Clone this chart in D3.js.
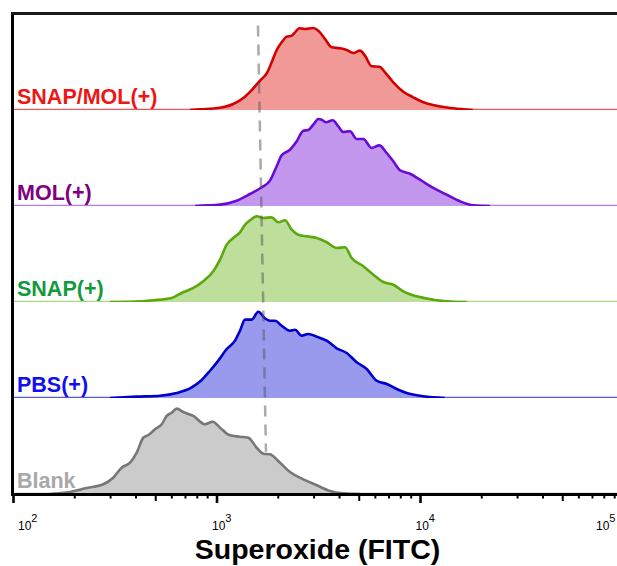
<!DOCTYPE html>
<html>
<head>
<meta charset="utf-8">
<script src="https://cdn.jsdelivr.net/npm/d3@7"></script>
<style>
  body { margin: 0; background: #fff; }
  svg { display: block; }
</style>
</head>
<body>
<div id="chart"></div>
<script>
// Row labels, top to bottom
const rowLabels = ["SNAP/MOL(+)", "MOL(+)", "SNAP(+)", "PBS(+)", "Blank"];

// Histograms: [FITC value, % of max count]
const snapMolData = [[737,0],[825,0.7],[1035,2.4],[1202,6.2],[1346,12.5],[1481,20.8],[1627,30.5],[1767,39.3],[1857,49.7],[1965,62.5],[2079,70.5],[2200,76.4],[2328,77.4],[2417,80.9],[2537,85.1],[2706,84.4],[2973,85.4],[3146,82.6],[3394,74.0],[3661,65.3],[4022,64.3],[4338,62.5],[4675,59.4],[5043,61.8],[5337,56.6],[5757,45.5],[6273,45.1],[6693,39.3],[7349,28.9],[8232,19.1],[9217,13.2],[10323,8.0],[12010,4.5],[14490,1.8],[18110,0]];
const molData = [[780,0],[1035,1.4],[1250,5.5],[1453,12.5],[1659,19.5],[1821,26.4],[1965,41.4],[2079,52.8],[2284,58.6],[2464,67.4],[2655,78.4],[2809,79.2],[2973,84.7],[3146,90.6],[3270,89.9],[3433,87.2],[3704,89.3],[3946,83.0],[4175,77.1],[4503,77.8],[4860,69.8],[5235,69.8],[5757,60.4],[6273,63.2],[6823,55.2],[7349,46.6],[7930,37.2],[8879,33.6],[9943,27.4],[11560,18.8],[13450,11.8],[15630,4.9],[18180,0.7],[21950,0]];
const snapData = [[298,0],[374,0.3],[486,1.8],[599,4.2],[671,9.4],[765,14.6],[856,21.6],[959,32.0],[1035,44.1],[1116,59.7],[1202,66.7],[1297,72.6],[1373,80.5],[1453,85.1],[1567,89.3],[1689,87.5],[1857,88.2],[2001,83.0],[2158,85.1],[2328,75.3],[2509,70.1],[2759,68.4],[3090,66.7],[3460,62.2],[3875,56.3],[4256,57.0],[4591,45.8],[5235,37.2],[5863,28.4],[6564,20.8],[7349,18.0],[8232,11.1],[9579,5.9],[11560,2.4],[14490,0.3],[16870,0]];
const pbsData = [[298,0],[403,1.4],[525,2.4],[634,5.2],[751,11.1],[841,18.8],[924,28.4],[1015,38.9],[1116,51.0],[1226,59.7],[1297,70.1],[1373,81.6],[1481,81.6],[1596,89.9],[1721,83.0],[1821,80.5],[1928,80.5],[2079,75.3],[2284,70.1],[2417,71.1],[2607,64.9],[2809,66.7],[3090,63.9],[3460,59.7],[3875,51.8],[4338,46.9],[4860,37.2],[5440,30.2],[6092,18.0],[6823,14.6],[7638,9.4],[8554,5.2],[10323,1.8],[13160,0]];
const blankData = [[151,0],[190,2.1],[229,6.2],[276,10.1],[309,17.0],[340,27.4],[374,32.6],[403,43.0],[434,58.6],[460,61.5],[496,67.4],[535,72.6],[566,81.3],[599,84.7],[634,88.9],[683,85.4],[765,81.3],[873,72.6],[953,75.3],[1035,69.1],[1158,61.1],[1297,59.7],[1425,58.6],[1567,48.2],[1689,42.0],[1821,41.4],[2040,32.6],[2284,22.9],[2655,15.3],[3090,9.1],[3592,3.1],[4175,0.7],[5043,0]];

// Gate line (slightly slanted in the original)
const gateFitc = [1590, 1740];
const gateCount = [88, 44];   // top in first row, bottom in last row

// Axis ticks
const decadeTicks = [100, 1000, 10000, 100000];
const decadeExponents = ["2", "3", "4", "5"];

const lineColors = ["#d40000", "#6a0ad6", "#5aa80c", "#0000cc", "#777777"];
const fillColors = ["#f09997", "#c497ef", "#bddf9b", "#9999ee", "#cbcbcb"];
const baseColors = ["#e85a5a", "#b47ae8", "#a8d884", "#5a5ae0", "#999999"];
const textColors = ["#ee1515", "#800080", "#119a3c", "#1010ee", "#a8a8a8"];

const series = [snapMolData, molData, snapData, pbsData, blankData].map((data, i) => ({
    label: rowLabels[i],
    data: data,
    line: lineColors[i],
    fill: fillColors[i],
    base: baseColors[i],
    text: textColors[i]
}));

const width = 617, height = 566;
const plotLeft = 13.5, plotTop = 14, rowH = 96;
const plotBottom = plotTop + rowH * series.length;

const svg = d3.select("#chart").append("svg")
    .attr("width", width)
    .attr("height", height)
    .style("font-family", "'Liberation Sans', Arial, sans-serif");

const x = d3.scaleLog().domain([100, 100000]).range([plotLeft, 624]);
const y = d3.scaleLinear().domain([0, 100]).range([0, rowH]);

const defs = svg.append("defs");

series.forEach((s, i) => {
    const base = plotTop + rowH * (i + 1);

    // thin baseline across the whole row
    svg.append("line")
        .attr("x1", plotLeft).attr("x2", width)
        .attr("y1", base - 0.6).attr("y2", base - 0.6)
        .attr("stroke", s.base)
        .attr("stroke-width", 1.3);

    defs.append("clipPath").attr("id", "row-clip-" + i)
        .append("rect")
        .attr("x", 0).attr("y", base - rowH - 4)
        .attr("width", width).attr("height", rowH + 4);

    const g = svg.append("g").attr("clip-path", `url(#row-clip-${i})`);

    const area = d3.area()
        .x(d => x(d[0]))
        .y0(base)
        .y1(d => base - y(d[1]))
        .curve(d3.curveMonotoneX);

    const line = d3.line()
        .x(d => x(d[0]))
        .y(d => base - y(d[1]))
        .curve(d3.curveMonotoneX);

    g.append("path")
        .datum(s.data)
        .attr("d", area)
        .attr("fill", s.fill);

    g.append("path")
        .datum(s.data)
        .attr("d", line)
        .attr("fill", "none")
        .attr("stroke", s.line)
        .attr("stroke-width", 2.6)
        .attr("stroke-linejoin", "round");

    svg.append("text")
        .attr("x", 17)
        .attr("y", base - 6.5)
        .attr("fill", s.text)
        .attr("font-size", "21.5px")
        .attr("font-weight", "bold")
        .text(s.label);
});

// Dashed gate line, drawn over the fills
svg.append("line")
    .attr("x1", x(gateFitc[0]))
    .attr("y1", plotTop + rowH - y(gateCount[0]))
    .attr("x2", x(gateFitc[1]))
    .attr("y2", plotBottom - y(gateCount[1]))
    .attr("stroke", "#555")
    .attr("stroke-opacity", 0.5)
    .attr("stroke-width", 2.5)
    .attr("stroke-dasharray", "11,8");

// Frame: left spine, top border, bottom axis
svg.append("line")
    .attr("x1", 12.5).attr("x2", 12.5)
    .attr("y1", 12.5).attr("y2", plotBottom)
    .attr("stroke", "#000").attr("stroke-width", 3);

svg.append("line")
    .attr("x1", 11).attr("x2", width)
    .attr("y1", 13.5).attr("y2", 13.5)
    .attr("stroke", "#1a1a1a").attr("stroke-width", 3);

svg.append("line")
    .attr("x1", 11).attr("x2", width)
    .attr("y1", plotBottom + 0.5).attr("y2", plotBottom + 0.5)
    .attr("stroke", "#000").attr("stroke-width", 3);

// Log ticks
const leadDigit = d => d / Math.pow(10, Math.floor(Math.log10(d) + 1e-9));
const ticks = x.ticks();
svg.selectAll(".tick")
    .data(ticks)
    .enter()
    .append("line")
    .attr("class", "tick")
    .attr("x1", d => x(d)).attr("x2", d => x(d))
    .attr("y1", plotBottom)
    .attr("y2", d => {
        const lead = leadDigit(d);
        if (Math.abs(lead - 1) < 1e-6) return plotBottom + 9;
        if (Math.abs(lead - 5) < 1e-6) return plotBottom + 7;
        return plotBottom + 4.5;
    })
    .attr("stroke", "#000")
    .attr("stroke-width", d => Math.abs(leadDigit(d) - 1) < 1e-6 ? 2.6 : 2);

// Decade labels 10^n
decadeTicks.forEach((t, i) => {
    const lx = Math.min(Math.max(x(t) - 5, 18), 596);
    const label = svg.append("text")
        .attr("x", lx)
        .attr("y", 530)
        .attr("font-size", "12px")
        .attr("fill", "#000");
    label.append("tspan").text("10");
    label.append("tspan")
        .attr("dy", -8)
        .attr("font-size", "11px")
        .text(decadeExponents[i]);
});

// Axis title
svg.append("text")
    .attr("x", 317.5)
    .attr("y", 559)
    .attr("text-anchor", "middle")
    .attr("font-size", "28.5px")
    .attr("font-weight", "bold")
    .attr("fill", "#000")
    .text("Superoxide (FITC)");
</script>
</body>
</html>
